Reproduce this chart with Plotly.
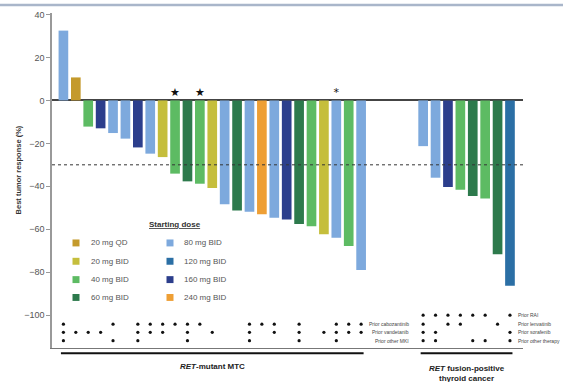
import plotly.graph_objects as go

# ---------------- data ----------------
dose_names = ["20 mg QD", "20 mg BID", "40 mg BID", "60 mg BID",
              "80 mg BID", "120 mg BID", "160 mg BID", "240 mg BID"]
dose_colors = ["#C49A2C", "#C5BE3C", "#5DBB63", "#2D7A4C",
               "#7DA9DD", "#2B6FA5", "#2C3E8C", "#EE9F35"]

# RET-mutant MTC patients
mtc_response = [32.5, 10.7, -12.2, -13.0, -15.2, -17.8, -21.9, -24.8, -26.4,
                -34.1, -37.7, -38.8, -40.8, -48.4, -51.3, -51.8, -53.0, -54.7,
                -55.5, -57.5, -58.6, -62.3, -64.0, -67.8, -79.0]
mtc_dose = ["80 mg BID", "20 mg QD", "40 mg BID", "160 mg BID", "80 mg BID",
            "80 mg BID", "160 mg BID", "80 mg BID", "20 mg BID", "40 mg BID",
            "60 mg BID", "40 mg BID", "20 mg BID", "80 mg BID", "60 mg BID",
            "80 mg BID", "240 mg BID", "80 mg BID", "160 mg BID", "60 mg BID",
            "40 mg BID", "20 mg BID", "80 mg BID", "40 mg BID", "80 mg BID"]
mtc_mark = ["", "", "", "", "", "", "", "", "", "★", "", "★", "", "", "", "",
            "", "", "", "", "", "", "*", "", ""]
mtc_prior_cabo = [1, 0, 0, 0, 1, 0, 1, 1, 1, 1, 1, 1, 0, 0, 0, 1, 1, 1, 0, 1, 0, 0, 1, 1, 1]
mtc_prior_vand = [1, 1, 1, 1, 0, 0, 1, 1, 1, 0, 1, 0, 1, 0, 0, 1, 0, 1, 0, 1, 0, 1, 1, 1, 1]
mtc_prior_mki = [1, 0, 0, 0, 1, 0, 1, 0, 0, 0, 1, 0, 0, 0, 0, 1, 0, 0, 0, 1, 0, 0, 1, 0, 0]

# RET fusion-positive thyroid cancer patients
fus_response = [-21.3, -36.0, -40.3, -41.6, -44.5, -45.7, -71.6, -86.3]
fus_dose = ["80 mg BID", "80 mg BID", "160 mg BID", "40 mg BID",
            "60 mg BID", "40 mg BID", "60 mg BID", "120 mg BID"]
fus_prior_rai = [1, 1, 1, 1, 1, 1, 0, 1]
fus_prior_lenv = [1, 0, 1, 1, 0, 0, 1, 0]
fus_prior_sora = [1, 1, 0, 0, 0, 0, 0, 1]
fus_prior_other = [1, 1, 0, 0, 1, 1, 0, 1]

mtc_row_labels = ["Prior cabozantinib", "Prior vandetanib", "Prior other MKI"]
fus_row_labels = ["Prior RAI", "Prior lenvatinib", "Prior sorafenib", "Prior other therapy"]
y_ticks = [40, 20, 0, -20, -40, -60, -80, -100]
threshold = -30

# ---------------- layout helpers ----------------
GAP = 4
mtc_x = list(range(len(mtc_response)))
fus_x = [len(mtc_response) + GAP + j for j in range(len(fus_response))]
all_x = mtc_x + fus_x
all_y = mtc_response + fus_response
all_d = mtc_dose + fus_dose

row_y = [-100.0, -104.2, -108.0, -111.9]  # annotation rows under the bars

FONT = "Liberation Sans, Arial, sans-serif"
fig = go.Figure()

for name, col in zip(dose_names, dose_colors):
    xs = [x for x, d in zip(all_x, all_d) if d == name]
    ys = [y for y, d in zip(all_y, all_d) if d == name]
    fig.add_trace(go.Bar(x=xs, y=ys, name=name, marker=dict(color=col, line=dict(width=0)),
                         width=0.78, showlegend=False))

# star markers
sx = [x for x, m in zip(mtc_x, mtc_mark) if m]
st = [m for m in mtc_mark if m]
fig.add_trace(go.Scatter(x=sx, y=[3.5] * len(sx), mode="text", text=st,
                         textfont=dict(size=11, color="#111", family="DejaVu Sans"),
                         showlegend=False, cliponaxis=False))

# prior-therapy dots
def dot_trace(xs, flags, yv):
    px = [x for x, f in zip(xs, flags) if f]
    return go.Scatter(x=px, y=[yv] * len(px), mode="markers",
                      marker=dict(size=3.2, color="#111"), showlegend=False, cliponaxis=False)

for flags, yv in zip([mtc_prior_cabo, mtc_prior_vand, mtc_prior_mki], row_y[1:]):
    fig.add_trace(dot_trace(mtc_x, flags, yv))
for flags, yv in zip([fus_prior_rai, fus_prior_lenv, fus_prior_sora, fus_prior_other], row_y):
    fig.add_trace(dot_trace(fus_x, flags, yv))

x_range = [-0.92, fus_x[-1] + 1.05]
y_range = [-115.3, 40.7]

ann = []
for lab, yv in zip(mtc_row_labels, row_y[1:]):
    ann.append(dict(x=mtc_x[-1] + 4.0, y=yv, xref="x", yref="y", text=lab, showarrow=False,
                    xanchor="right", yanchor="middle", font=dict(size=5, color="#444", family=FONT)))
for lab, yv in zip(fus_row_labels, row_y):
    ann.append(dict(x=fus_x[-1] + 0.45, y=yv, xref="x", yref="y", text=lab, showarrow=False,
                    xanchor="left", yanchor="middle", font=dict(size=5, color="#444", family=FONT)))

# group labels
ann.append(dict(x=(mtc_x[0] + mtc_x[-1]) / 2, y=-0.056, xref="x", yref="paper",
                text="<b><i>RET</i>-mutant MTC</b>", showarrow=False, yanchor="middle",
                font=dict(size=8, color="#222", family=FONT)))
ann.append(dict(x=(fus_x[0] + fus_x[-1]) / 2, y=-0.043, xref="x", yref="paper",
                text="<b><i>RET</i> fusion-positive<br>thyroid cancer</b>", showarrow=False,
                yanchor="top", font=dict(size=8, color="#222", family=FONT)))

# y title
ann.append(dict(x=-0.086, y=0.533, xref="paper", yref="paper", text="<b>Best tumor response (%)</b>",
                textangle=-90, showarrow=False, font=dict(size=7.5, color="#333", family=FONT)))

# legend (manual)
def px2p(px, py):
    return (px - 52) / 471, (348 - py) / 338

shapes = []
tx, ty = px2p(147, 223)
ann.append(dict(x=tx, y=ty, xref="paper", yref="paper", text="<b><u>Starting dose</u></b>",
                showarrow=False, font=dict(size=8, color="#333", family=FONT)))
rows_py = [242, 260.5, 279, 297]
for k, (name, col) in enumerate(zip(dose_names, dose_colors)):
    c, r = divmod(k, 4)
    sw_x = [76, 170][c]
    tx_px = [89, 182][c]
    x0, y0 = px2p(sw_x - 3.5, rows_py[r] + 3.5)
    x1, y1 = px2p(sw_x + 3.5, rows_py[r] - 3.5)
    shapes.append(dict(type="rect", xref="paper", yref="paper", x0=x0, x1=x1, y0=y0, y1=y1,
                       fillcolor=col, line=dict(width=0)))
    lx, ly = px2p(tx_px, rows_py[r])
    ann.append(dict(x=lx, y=ly, xref="paper", yref="paper", text=name, showarrow=False,
                    xanchor="left", yanchor="middle", font=dict(size=8, color="#555", family=FONT)))

# threshold line
shapes.append(dict(type="line", xref="paper", yref="y", x0=0, x1=1, y0=threshold, y1=threshold,
                   line=dict(color="#333", width=1, dash="3px,3px")))
# group underlines
for g in (mtc_x, fus_x):
    shapes.append(dict(type="line", xref="x", yref="paper", x0=g[0] - 0.2, x1=g[-1] + 0.2,
                       y0=-0.016, y1=-0.016, line=dict(color="#111", width=2)))
# top frame line
shapes.append(dict(type="line", xref="paper", yref="paper", x0=-0.12, x1=1.1, y0=1.024, y1=1.024,
                   line=dict(color="#A9B6CA", width=2.5)))

fig.update_layout(
    width=563, height=382,
    margin=dict(l=52, r=40, t=10, b=34),
    paper_bgcolor="white", plot_bgcolor="white",
    barmode="overlay",
    showlegend=False,
    annotations=ann, shapes=shapes,
    xaxis=dict(range=x_range, showgrid=False, zeroline=False, showticklabels=False,
               showline=True, linecolor="#777", linewidth=1, ticks=""),
    yaxis=dict(range=y_range, tickvals=y_ticks, showgrid=False, zeroline=True,
               zerolinecolor="#444", zerolinewidth=1.5, showline=True, linecolor="#999",
               linewidth=1.5, ticks="outside", ticklen=4, tickcolor="#999",
               tickfont=dict(size=9, color="#555", family=FONT)),
)

fig.write_html("out.html", config={"displayModeBar": False},
               post_script="document.body.style.margin='0';document.body.style.overflow='hidden';")
